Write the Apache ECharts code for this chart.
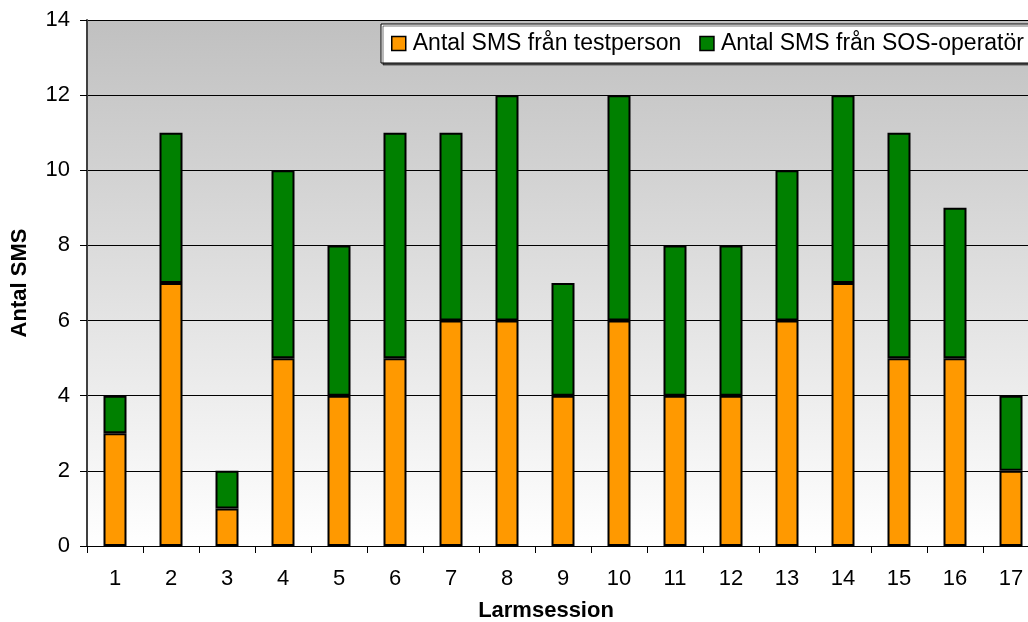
<!DOCTYPE html>
<html>
<head>
<meta charset="utf-8">
<script src="https://cdn.jsdelivr.net/npm/echarts@6/dist/echarts.min.js"></script>
<style>
  html, body { margin: 0; padding: 0; background: #ffffff; }
  #chart { width: 1028px; height: 622px; }
</style>
</head>
<body>
<div id="chart"></div>
<script>
// Larmsession 1..17
const sessions = ['1', '2', '3', '4', '5', '6', '7', '8', '9', '10', '11', '12', '13', '14', '15', '16', '17'];
// SMS sent by the test person (orange, bottom)
const fromTestperson = [3, 7, 1, 5, 4, 5, 6, 6, 4, 6, 4, 4, 6, 7, 5, 5, 2];
// SMS sent by the SOS operator (green, stacked on top)
const fromOperator = [1, 4, 1, 5, 4, 6, 5, 6, 3, 6, 4, 4, 4, 5, 6, 4, 2];
const yTicks = [0, 2, 4, 6, 8, 10, 12, 14];

const chart = echarts.init(document.getElementById('chart'));
const font = "'Liberation Sans', Arial, sans-serif";

const option = {
    animation: false,
    backgroundColor: '#ffffff',
    textStyle: { fontFamily: font },
    grid: {
        left: 87,
        top: 20,
        bottom: 76,
        width: 952,
        containLabel: false,
        outerBoundsMode: 'none',
        show: true,
        borderWidth: 0,
        backgroundColor: {
            type: 'linear', x: 0, y: 0, x2: 0, y2: 1,
            colorStops: [
                { offset: 0, color: '#c0c0c0' },
                { offset: 1, color: '#ffffff' }
            ]
        }
    },
    legend: {
        left: 381,
        top: 24,
        width: 900,
        padding: [8, 10],
        itemGap: 18,
        itemWidth: 14,
        itemHeight: 14,
        icon: 'rect',
        backgroundColor: '#ffffff',
        borderColor: '#000000',
        borderWidth: 1,
        shadowColor: 'rgba(0,0,0,0.55)',
        shadowOffsetX: 2,
        shadowOffsetY: 2,
        shadowBlur: 0,
        textStyle: { fontSize: 23, color: '#000', fontFamily: font, padding: [0, 0, 0, 2] },
        itemStyle: { borderColor: '#000', borderWidth: 1.5 }
    },
    xAxis: {
        type: 'category',
        data: sessions,
        name: 'Larmsession',
        nameLocation: 'middle',
        nameGap: 54,
        nameTextStyle: { fontSize: 22, fontWeight: 'bold', color: '#000', padding: [0, 34, 0, 0] },
        axisLine: { lineStyle: { color: '#000', width: 1 } },
        axisTick: { show: true, length: 7, lineStyle: { color: '#000' } },
        axisLabel: { fontSize: 22, color: '#000', margin: 22 }
    },
    yAxis: {
        type: 'value',
        min: 0,
        max: 14,
        interval: 2,
        name: 'Antal SMS',
        nameLocation: 'middle',
        nameGap: 56,
        nameRotate: 90,
        nameTextStyle: { fontSize: 22, fontWeight: 'bold', color: '#000' },
        axisLine: { show: true, lineStyle: { color: '#404040', width: 2 } },
        axisTick: { show: true, length: 7, lineStyle: { color: '#000' } },
        axisLabel: {
            fontSize: 22, color: '#000', margin: 17,
            formatter: function (v) { return yTicks.indexOf(v) >= 0 ? String(v) : ''; }
        },
        splitLine: { show: true, lineStyle: { color: '#000', width: 1 } }
    },
    series: [
        {
            name: 'Antal SMS från testperson',
            type: 'bar',
            stack: 'sms',
            data: fromTestperson,
            barWidth: 23,
            itemStyle: { color: '#ff9900', borderColor: '#000', borderWidth: 2 }
        },
        {
            name: 'Antal SMS från SOS-operatör',
            type: 'bar',
            stack: 'sms',
            data: fromOperator,
            barWidth: 23,
            itemStyle: { color: '#008000', borderColor: '#000', borderWidth: 2 }
        }
    ]
};

chart.setOption(option);
</script>
</body>
</html>
